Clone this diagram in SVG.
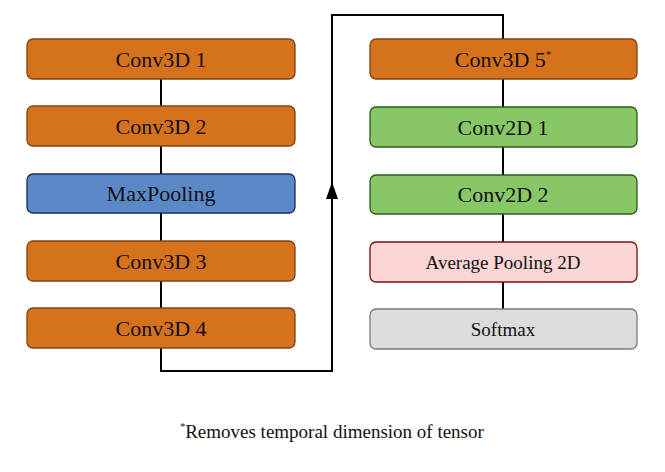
<svg xmlns="http://www.w3.org/2000/svg" width="665" height="472" viewBox="0 0 665 472">
<style>
rect{stroke-width:1.3}
.o{fill:#d6711c;stroke:#7d4613}
.b{fill:#5b89c8;stroke:#14304f}
.g{fill:#88c766;stroke:#2e5a1c}
.p{fill:#fbd6d5;stroke:#7a0f12}
.s{fill:#dcdcdc;stroke:#7a7a7a}
text{font-family:"Liberation Serif",serif;text-anchor:middle;fill:#111}
.l{font-size:22px}
.m{font-size:19px}
.c{fill:none;stroke:#000;stroke-width:2}
</style>
<rect width="665" height="472" fill="#fff"/>
<g id="connectors">
<line class="c" x1="161" y1="79" x2="161" y2="106"/>
<line class="c" x1="161" y1="146" x2="161" y2="174"/>
<line class="c" x1="161" y1="213" x2="161" y2="241"/>
<line class="c" x1="161" y1="281" x2="161" y2="308"/>
<path class="c" d="M161,348 V371 H332 V15 H503 V39"/>
<path d="M332,182 L326,199 L338,199 Z" fill="#000"/>
<line class="c" x1="503" y1="79" x2="503" y2="107"/>
<line class="c" x1="503" y1="147" x2="503" y2="175"/>
<line class="c" x1="503" y1="214" x2="503" y2="242"/>
<line class="c" x1="503" y1="282" x2="503" y2="309"/>
</g>
<g id="conv3d1"><rect class="o" x="27" y="39" width="268" height="40" rx="6"/><text class="l" x="161" y="67">Conv3D 1</text></g>
<g id="conv3d2"><rect class="o" x="27" y="106" width="268" height="40" rx="6"/><text class="l" x="161" y="134">Conv3D 2</text></g>
<g id="maxpool"><rect class="b" x="27" y="174" width="268" height="39" rx="6"/><text class="l" x="161" y="201">MaxPooling</text></g>
<g id="conv3d3"><rect class="o" x="27" y="241" width="268" height="40" rx="6"/><text class="l" x="161" y="269">Conv3D 3</text></g>
<g id="conv3d4"><rect class="o" x="27" y="308" width="268" height="40" rx="6"/><text class="l" x="161" y="336">Conv3D 4</text></g>
<g id="conv3d5"><rect class="o" x="370" y="39" width="267" height="40" rx="6"/><text class="l" x="503" y="67">Conv3D 5<tspan font-size="11" dy="-9">*</tspan></text></g>
<g id="conv2d1"><rect class="g" x="370" y="107" width="267" height="40" rx="6"/><text class="l" x="503" y="135">Conv2D 1</text></g>
<g id="conv2d2"><rect class="g" x="370" y="175" width="267" height="39" rx="6"/><text class="l" x="503" y="202">Conv2D 2</text></g>
<g id="avgpool"><rect class="p" x="370" y="242" width="267" height="40" rx="6"/><text class="m" x="503" y="269">Average Pooling 2D</text></g>
<g id="softmax"><rect class="s" x="370" y="309" width="267" height="40" rx="6"/><text class="m" x="503" y="336">Softmax</text></g>
<text class="m" x="332" y="438"><tspan font-size="10" dy="-8">*</tspan><tspan dy="8">Removes temporal dimension of tensor</tspan></text>
</svg>
